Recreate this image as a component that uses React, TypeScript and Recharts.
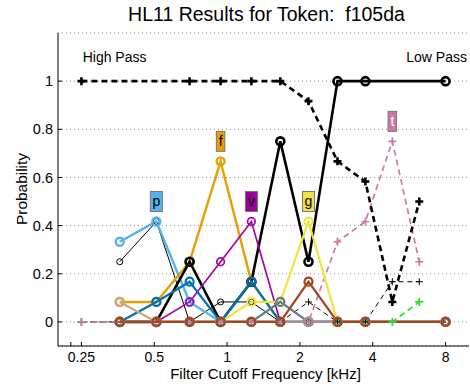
import React from 'react';
import { LineChart, Line, XAxis, YAxis, CartesianGrid } from 'recharts';

// Cutoff frequencies (kHz) for the high-pass and low-pass conditions
const hpFreqs = [0.25, 0.7, 0.94, 1.26, 1.66, 2.17, 2.86, 3.73, 4.82, 6.23];
const lpFreqs = [0.36, 0.51, 0.7, 0.94, 1.26, 1.66, 2.17, 2.86, 3.73, 8];

// High-pass responses (dashed, plus markers)
const hpBlack = [1, 1, 1, 1, 1, 0.917, 0.667, 0.583, 0.083, 0.5];
const hpPink = [0, 0, 0, 0, 0, 0, 0.333, 0.417, 0.75, 0.25];
const hpThinBlack = [0, 0, 0, 0, 0, 0.083, 0, 0, 0.167, 0.167];
const hpGreen = [0, 0, 0, 0, 0, 0, 0, 0, 0, 0.083];

// Low-pass responses (solid, circle markers)
const lpThinBlack = [0.25, 0.417, 0, 0.083, 0.083, 0, 0, 0, 0, 0];
const lpSkyBlue = [0.333, 0.417, 0.083, 0, 0, 0, 0, 0, 0, 0];
const lpOrange = [0.083, 0.083, 0.25, 0.667, 0.167, 0, 0, 0, 0, 0];
const lpBlack = [0, 0, 0.25, 0, 0.167, 0.75, 0.25, 1, 1, 1];
const lpMagenta = [0, 0, 0.083, 0.25, 0.417, 0, 0, 0, 0, 0];
const lpBlue = [0, 0.083, 0.167, 0, 0.167, 0, 0, 0, 0, 0];
const lpYellow = [0, 0, 0, 0, 0.083, 0.083, 0.417, 0, 0, 0];
const lpGrayBlue = [0, 0, 0, 0, 0, 0.083, 0, 0, 0, 0];
const lpTan = [0.083, 0, 0, 0, 0, 0, 0, 0, 0, 0];
const lpMauve = [0, 0, 0, 0, 0, 0, 0, 0, 0, 0];
const lpBrown = [0, 0, 0, 0, 0, 0, 0.167, 0, 0, 0];

const xTicks = [0.226, 0.25, 0.5, 1, 2, 4, 8];
const xTickLabels = ['', '0.25', '0.5', '1', '2', '4', '8'];
const yTicks = [0, 0.2, 0.4, 0.6, 0.8, 1];
const yTickLabels = ['0', '0.2', '0.4', '0.6', '0.8', '1'];

const FONT = '"Liberation Sans", Arial, Helvetica, sans-serif';

const rows = (freqs: number[], vals: number[]) => freqs.map((f, i) => ({ f, p: vals[i] }));
const peakIndex = (vals: number[]) => vals.indexOf(Math.max(...vals));

type Tag = { text: string; fill: string; color: string; at: number };

function TagBox({ x, y, tag }: { x: number; y: number; tag: Tag }) {
  const w = /[ftil]/.test(tag.text) ? 8.5 : 12;
  const cy = y - 20;
  return (
    <g>
      <rect x={x - w / 2} y={cy - 10} width={w} height={20} fill={tag.fill} stroke="#777" strokeWidth={1} />
      <text x={x} y={cy + 4.5} textAnchor="middle" fontSize={14} fontFamily={FONT} fill={tag.color}>
        {tag.text}
      </text>
    </g>
  );
}

const ringDot = (color: string, width: number, r: number, tag?: Tag) => (props: any) => {
  const { cx, cy, index } = props;
  if (cx == null || cy == null) return <g key={`r${index}`} />;
  return (
    <g key={`r${index}`}>
      <circle cx={cx} cy={cy} r={r} fill="none" stroke={color} strokeWidth={width} />
      {tag && index === tag.at && <TagBox x={cx} y={cy} tag={tag} />}
    </g>
  );
};

const plusDot = (color: string, width: number, size: number, tag?: Tag) => (props: any) => {
  const { cx, cy, index } = props;
  if (cx == null || cy == null) return <g key={`p${index}`} />;
  const h = size / 2;
  return (
    <g key={`p${index}`}>
      <path d={`M${cx - h},${cy}H${cx + h}M${cx},${cy - h}V${cy + h}`} stroke={color} strokeWidth={width} fill="none" />
      {tag && index === tag.at && <TagBox x={cx} y={cy} tag={tag} />}
    </g>
  );
};

const hpSeries = [
  { name: 'hpGreen', vals: hpGreen, color: '#2BE02B', width: 1.7, dash: '6 4', marker: 8 },
  { name: 'hpThinBlack', vals: hpThinBlack, color: '#000', width: 1, dash: '5 4', marker: 7 },
  {
    name: 'hpPink', vals: hpPink, color: '#CC79A7', width: 1.7, dash: '6 4', marker: 8,
    tag: { text: 't', fill: '#CC79A7', color: '#fff', at: peakIndex(hpPink) },
  },
  { name: 'hpBlack', vals: hpBlack, color: '#000', width: 2.6, dash: '6 4', marker: 8 },
];

const lpSeries = [
  { name: 'lpThinBlack', vals: lpThinBlack, color: '#000', width: 1, r: 3 },
  {
    name: 'lpSkyBlue', vals: lpSkyBlue, color: '#56B4E9', width: 2.4, r: 4,
    tag: { text: 'p', fill: '#56B4E9', color: '#000', at: peakIndex(lpSkyBlue) },
  },
  {
    name: 'lpOrange', vals: lpOrange, color: '#E69F00', width: 2.4, r: 4,
    tag: { text: 'f', fill: '#E69F00', color: '#000', at: peakIndex(lpOrange) },
  },
  { name: 'lpBlack', vals: lpBlack, color: '#000', width: 2.6, r: 4 },
  {
    name: 'lpMagenta', vals: lpMagenta, color: '#A800A8', width: 1.7, r: 3.8,
    tag: { text: 'v', fill: '#990099', color: '#000', at: peakIndex(lpMagenta) },
  },
  { name: 'lpBlue', vals: lpBlue, color: '#0072B2', width: 2.2, r: 4 },
  {
    name: 'lpYellow', vals: lpYellow, color: '#F0E442', width: 2.2, r: 4,
    tag: { text: 'g', fill: '#F0E442', color: '#000', at: peakIndex(lpYellow) },
  },
  { name: 'lpGrayBlue', vals: lpGrayBlue, color: '#5E7D8C', width: 2.2, r: 4 },
  { name: 'lpTan', vals: lpTan, color: '#C9A58C', width: 2.2, r: 4 },
  { name: 'lpMauve', vals: lpMauve, color: '#A08D9E', width: 2.2, r: 4 },
  { name: 'lpBrown', vals: lpBrown, color: '#A3441D', width: 2.2, r: 4 },
];

export default function App() {
  return (
    <div style={{ position: 'absolute', left: 0, top: 0, width: 470, height: 386, background: '#fff' }}>
      <LineChart width={470} height={386} margin={{ top: 33, right: 1, bottom: 0, left: 0 }}>
        <CartesianGrid horizontal vertical={false} stroke="#8c8c8c" strokeDasharray="1 3" />
        <XAxis
          dataKey="f"
          type="number"
          scale="log"
          domain={[0.2, 10]}
          allowDataOverflow
          ticks={xTicks}
          interval={0}
          tickFormatter={(v: number) => xTickLabels[xTicks.indexOf(v)] ?? ''}
          height={40}
          tickSize={-4}
          tickMargin={10}
          stroke="#000"
          tick={{ fill: '#000', fontSize: 14, fontFamily: FONT }}
        />
        <XAxis
          xAxisId="top"
          orientation="top"
          dataKey="f"
          type="number"
          scale="log"
          domain={[0.2, 10]}
          allowDataOverflow
          ticks={xTicks}
          interval={0}
          height={0}
          tickSize={-4}
          tick={false}
          stroke="#000"
        />
        <YAxis
          type="number"
          domain={[-0.1, 1.2]}
          allowDataOverflow
          ticks={yTicks}
          interval={0}
          tickFormatter={(v: number) => yTickLabels[yTicks.indexOf(v)] ?? ''}
          width={58}
          tickSize={-4}
          tickMargin={9}
          stroke="#000"
          tick={{ fill: '#000', fontSize: 14.5, fontFamily: FONT }}
        />
        {hpSeries.map((s) => (
          <Line
            key={s.name}
            data={rows(hpFreqs, s.vals)}
            dataKey="p"
            type="linear"
            stroke={s.color}
            strokeWidth={s.width}
            strokeDasharray={s.dash}
            dot={plusDot(s.color, s.width, s.marker, s.tag)}
            activeDot={false}
            isAnimationActive={false}
          />
        ))}
        {lpSeries.map((s) => (
          <Line
            key={s.name}
            data={rows(lpFreqs, s.vals)}
            dataKey="p"
            type="linear"
            stroke={s.color}
            strokeWidth={s.width}
            dot={ringDot(s.color, s.width, s.r, s.tag)}
            activeDot={false}
            isAnimationActive={false}
          />
        ))}
      </LineChart>
      <svg
        width={470}
        height={386}
        style={{ position: 'absolute', left: 0, top: 0, pointerEvents: 'none' }}
        fontFamily={FONT}
      >
        <text x={266.5} y={20.7} textAnchor="middle" fontSize={19.5} fill="#000">
          {'HL11 Results for Token:\u00a0 f105da'}
        </text>
        <text x={82.7} y={61.7} fontSize={14} fill="#000">High Pass</text>
        <text x={467} y={61.7} textAnchor="end" fontSize={14} fill="#000">Low Pass</text>
        <text x={26.5} y={189} textAnchor="middle" fontSize={15.4} fill="#000" transform="rotate(-90 26.5 189)">
          Probability
        </text>
        <text x={265.5} y={378.5} textAnchor="middle" fontSize={15} fill="#000">
          Filter Cutoff Frequency [kHz]
        </text>
      </svg>
    </div>
  );
}
